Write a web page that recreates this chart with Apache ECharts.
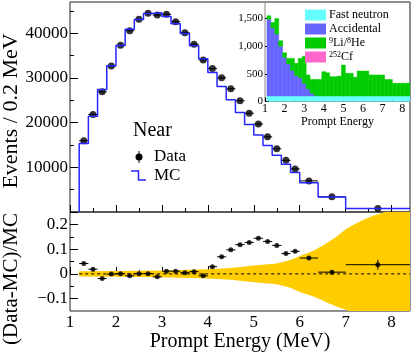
<!DOCTYPE html>
<html>
<head>
<meta charset="utf-8">
<title>Prompt energy</title>
<style>
html, body { margin: 0; padding: 0; background: #fff; }
#chart { width: 415px; height: 354px; }
</style>
</head>
<body>
<div id="chart"></div>
<script src="https://cdn.jsdelivr.net/npm/echarts@6/dist/echarts.min.js"></script>
<script>
// prompt energy spectrum, bin edges in MeV
const binEdges = [1.2, 1.4, 1.6, 1.8, 2.0, 2.2, 2.4, 2.6, 2.8, 3.0, 3.2, 3.4, 3.6, 3.8, 4.0, 4.2, 4.4, 4.6, 4.8, 5.0, 5.2, 5.4, 5.6, 5.8, 6.0, 6.4, 7.0, 8.4];
const dataCounts = [15960, 21830, 26900, 32700, 37320, 40580, 43120, 44460, 44080, 44240, 42590, 40130, 37540, 34040, 32100, 30020, 27570, 24890, 22100, 19690, 16820, 14140, 11560, 9640, 6960, 3390, 780];
const dataErrors = [130, 150, 160, 180, 190, 200, 210, 210, 210, 210, 210, 200, 190, 180, 180, 170, 170, 160, 150, 140, 130, 120, 110, 100, 60, 30, 15];
const mcCounts = [15320, 21420, 27420, 32730, 37280, 40910, 43080, 44420, 44620, 43760, 42130, 39930, 37200, 34310, 31200, 28080, 25130, 22260, 19610, 17210, 14870, 12680, 10680, 8840, 6540, 3370, 760];

// (Data-MC)/MC
const ratio = [0.042, 0.019, -0.019, -0.001, 0.001, -0.008, 0.001, 0.001, -0.012, 0.011, 0.011, 0.005, 0.009, -0.008, 0.029, 0.069, 0.097, 0.118, 0.127, 0.144, 0.131, 0.115, 0.082, 0.091, 0.064, 0.007, 0.037];
const ratioErrors = [0.004, 0.004, 0.004, 0.004, 0.004, 0.004, 0.004, 0.004, 0.004, 0.004, 0.004, 0.004, 0.004, 0.004, 0.004, 0.004, 0.004, 0.004, 0.004, 0.005, 0.005, 0.005, 0.005, 0.005, 0.006, 0.008, 0.02];

// MC uncertainty band
const bandEnergy = [1.2, 2.0, 3.0, 4.0, 4.5, 5.0, 5.5, 5.8, 6.0, 6.15, 6.3, 6.5, 6.65, 6.8, 7.0, 7.2, 7.4, 7.6, 7.85, 8.1, 8.4];
const bandUpper = [0.011, 0.012, 0.014, 0.019, 0.024, 0.034, 0.042, 0.056, 0.072, 0.082, 0.093, 0.115, 0.132, 0.15, 0.18, 0.202, 0.22, 0.235, 0.25, 0.27, 0.3];
const bandLower = [-0.011, -0.012, -0.014, -0.019, -0.024, -0.034, -0.042, -0.056, -0.073, -0.082, -0.091, -0.108, -0.121, -0.132, -0.145, -0.16, -0.175, -0.19, -0.205, -0.22, -0.24];

// inset: backgrounds
const insetEdges = [1.1, 1.3, 1.5, 1.7, 1.9, 2.1, 2.3, 2.5, 2.7, 2.9, 3.1, 3.3, 3.5, 3.7, 3.9, 4.1, 4.3, 4.5, 4.7, 4.9, 5.1, 5.3, 5.5, 5.7, 5.9, 6.1, 6.3, 6.5, 6.7, 6.9, 7.1, 7.3, 7.5, 7.7, 7.9, 8.1, 8.3, 8.5];
const fastNeutron = [100, 100, 100, 100, 100, 100, 100, 100, 100, 100, 100, 100, 100, 100, 100, 100, 100, 100, 100, 100, 100, 100, 100, 100, 100, 100, 100, 100, 100, 100, 100, 100, 100, 100, 100, 100, 100];
const accidental = [1390, 1230, 1120, 900, 700, 580, 460, 370, 330, 230, 130, 50, 10, 0, 0, 0, 0, 0, 0, 0, 0, 0, 0, 0, 0, 0, 0, 0, 0, 0, 0, 0, 0, 0, 0, 0, 0];
const liHe = [60, 100, 280, 100, 80, 100, 220, 220, 350, 490, 250, 250, 290, 300, 440, 420, 350, 350, 360, 560, 410, 410, 340, 450, 450, 450, 380, 380, 380, 380, 300, 300, 230, 230, 230, 230, 230];
const cf252 = [0, 0, 0, 0, 0, 0, 0, 0, 0, 0, 0, 0, 0, 0, 0, 0, 0, 0, 0, 0, 0, 0, 0, 0, 0, 0, 0, 0, 0, 0, 0, 0, 0, 0, 0, 0, 0];

// ticks
const xTicks = [1, 2, 3, 4, 5, 6, 7, 8];
const xMinorTicks = [1.5, 2.5, 3.5, 4.5, 5.5, 6.5, 7.5];
const yTicks = [0, 10000, 20000, 30000, 40000];
const yMinorTicks = [5000, 15000, 25000, 35000, 45000];
const ratioTicks = [-0.1, 0, 0.1, 0.2];
const ratioMinorTicks = [-0.05, 0.05, 0.15];
const insetYTicks = [0, 500, 1000, 1500];

const FONT = '"Liberation Serif", "Times New Roman", serif';
const BLUE = '#2626ff';

function tickAxis(gridIndex, position, min, max, ticks, len, label) {
    return {
        type: 'value', gridIndex: gridIndex, position: position, min: min, max: max,
        axisLine: { show: false }, splitLine: { show: false },
        axisTick: { show: true, inside: true, length: len, customValues: ticks, lineStyle: { color: '#000', width: 1 } },
        axisLabel: label ? Object.assign({ show: true, customValues: ticks, fontFamily: FONT, color: '#000' }, label) : { show: false }
    };
}

function errorBars(params, api) {
    let lo = api.value(0), hi = api.value(1), v = api.value(2), e = api.value(3);
    let a = api.coord([lo, v]), b = api.coord([hi, v]);
    let t = api.coord([(lo + hi) / 2, v + e]), d = api.coord([(lo + hi) / 2, v - e]);
    return {
        type: 'group', children: [
            { type: 'line', shape: { x1: a[0], y1: a[1], x2: b[0], y2: b[1] }, style: { stroke: '#000', lineWidth: 1 } },
            { type: 'line', shape: { x1: t[0], y1: t[1], x2: d[0], y2: d[1] }, style: { stroke: '#000', lineWidth: 1 } }
        ]
    };
}

let centers = dataCounts.map((v, i) => (binEdges[i] + binEdges[i + 1]) / 2);

let mcLine = [[binEdges[0], 0]];
mcCounts.forEach((v, i) => mcLine.push([binEdges[i], v]));
mcLine.push([binEdges[binEdges.length - 1], mcCounts[mcCounts.length - 1]]);

function stacked(name, color, values, layers) {
    return {
        type: 'custom', name: name, xAxisIndex: 4, yAxisIndex: 6, clip: true, silent: true,
        itemStyle: { color: color },
        data: values.map((v, i) => {
            let base = 0;
            layers.forEach(l => base += l[i]);
            return [insetEdges[i], insetEdges[i + 1], base, base + v];
        }),
        renderItem: function (params, api) {
            if (api.value(3) <= api.value(2)) return null;
            let p0 = api.coord([api.value(0), api.value(2)]);
            let p1 = api.coord([api.value(1), api.value(3)]);
            return {
                type: 'rect',
                shape: { x: p0[0], y: p1[1], width: p1[0] - p0[0], height: p0[1] - p1[1] },
                style: { fill: color, stroke: color, lineWidth: 0.5 }
            };
        }
    };
}

let chart = echarts.init(document.getElementById('chart'));
chart.setOption({
    animation: false,
    backgroundColor: '#fff',
    grid: [
        { left: 70, top: 2, width: 340, height: 210, show: true, borderColor: '#222', borderWidth: 1, outerBoundsMode: 'none' },
        { left: 70, top: 212, width: 340, height: 99, show: true, borderColor: '#222', borderWidth: 1, outerBoundsMode: 'none' },
        { left: 265, top: 2, width: 145, height: 99.5, show: true, borderColor: '#888', borderWidth: 1, outerBoundsMode: 'none' }
    ],
    xAxis: [
        tickAxis(0, 'bottom', 1, 8.4, xTicks, 7),
        tickAxis(0, 'bottom', 1, 8.4, xMinorTicks, 4),
        Object.assign(tickAxis(1, 'bottom', 1, 8.4, xTicks, 7, { fontSize: 17, margin: 3 }), {
            name: 'Prompt Energy (MeV)', nameLocation: 'middle', nameGap: 17,
            nameTextStyle: { fontFamily: FONT, fontSize: 20, color: '#000' }
        }),
        tickAxis(1, 'bottom', 1, 8.4, xMinorTicks, 4),
        Object.assign(tickAxis(2, 'bottom', 1, 8.4, xTicks, 4, { fontSize: 12, margin: 1 }), {
            name: 'Prompt Energy', nameLocation: 'middle', nameGap: 12,
            nameTextStyle: { fontFamily: FONT, fontSize: 12, color: '#000' }
        }),
        tickAxis(2, 'bottom', 1, 8.4, xMinorTicks, 2)
    ],
    yAxis: [
        tickAxis(0, 'left', 0, 47000, yTicks, 8, { fontSize: 17, margin: 2, formatter: v => v === 0 ? '' : String(v) }),
        tickAxis(0, 'left', 0, 47000, yMinorTicks, 4),
        tickAxis(1, 'left', -0.15, 0.25, ratioTicks, 8, {
            fontSize: 17, margin: 2,
            formatter: v => Math.abs(v) < 1e-9 ? '0' : (v < 0 ? '\u2212' + String(-v) : String(v))
        }),
        tickAxis(1, 'left', -0.15, 0.25, ratioMinorTicks, 4),
        tickAxis(1, 'right', -0.15, 0.25, ratioTicks, 8),
        tickAxis(1, 'right', -0.15, 0.25, ratioMinorTicks, 4),
        tickAxis(2, 'left', 0, 1800, insetYTicks, 4, { fontSize: 11, margin: 2 })
    ],
    legend: {
        data: ['Fast neutron', 'Accidental', 'LiHe', 'Cf'],
        orient: 'vertical', left: 300, top: 4, itemWidth: 21, itemHeight: 11, itemGap: 2,
        icon: 'rect', selectedMode: false,
        textStyle: {
            fontFamily: FONT, fontSize: 12, color: '#000', padding: [0, 0, 0, -2],
            rich: { s: { fontFamily: FONT, fontSize: 8, verticalAlign: 'top', padding: [0, 0, 4, 0] } }
        },
        formatter: function (n) {
            if (n === 'LiHe') return '{s|9}Li/{s|8}He';
            if (n === 'Cf') return '{s|252}Cf';
            return n;
        }
    },
    graphic: [
        { type: 'text', x: 11.5, y: 111, rotation: Math.PI / 2,
          style: { text: 'Events / 0.2 MeV', font: '22px ' + FONT, fill: '#000', align: 'center', verticalAlign: 'middle', textAlign: 'center', textVerticalAlign: 'middle' } },
        { type: 'text', x: 11.5, y: 279, rotation: Math.PI / 2,
          style: { text: '(Data-MC)/MC', font: '21px ' + FONT, fill: '#000', align: 'center', verticalAlign: 'middle', textAlign: 'center', textVerticalAlign: 'middle' } },
        { type: 'text', x: 133, y: 131,
          style: { text: 'Near', font: '20px ' + FONT, fill: '#000', verticalAlign: 'middle', textVerticalAlign: 'middle' } },
        { type: 'line', shape: { x1: 139, y1: 151, x2: 139, y2: 163 }, style: { stroke: '#000', lineWidth: 1 } },
        { type: 'circle', shape: { cx: 139, cy: 157, r: 3.5 }, style: { fill: '#000' } },
        { type: 'text', x: 154, y: 157,
          style: { text: 'Data', font: '17px ' + FONT, fill: '#000', verticalAlign: 'middle', textVerticalAlign: 'middle' } },
        { type: 'polyline', shape: { points: [[131, 171], [138.5, 171], [138.5, 180], [146, 180]] }, style: { stroke: BLUE, lineWidth: 1.5, fill: null } },
        { type: 'text', x: 154, y: 176,
          style: { text: 'MC', font: '17px ' + FONT, fill: '#000', verticalAlign: 'middle', textVerticalAlign: 'middle' } }
    ],
    series: [
        {
            type: 'line', name: 'MC', xAxisIndex: 0, yAxisIndex: 0, step: 'end', data: mcLine,
            showSymbol: false, lineStyle: { color: BLUE, width: 1.5 }, clip: true, silent: true
        },
        {
            type: 'custom', xAxisIndex: 0, yAxisIndex: 0, silent: true, clip: true,
            data: dataCounts.map((v, i) => [binEdges[i], binEdges[i + 1], v, dataErrors[i]]),
            renderItem: errorBars
        },
        {
            type: 'scatter', name: 'Data', xAxisIndex: 0, yAxisIndex: 0, symbolSize: 7, silent: true,
            itemStyle: { color: '#000' },
            data: dataCounts.map((v, i) => [centers[i], v])
        },
        {
            type: 'custom', xAxisIndex: 2, yAxisIndex: 2, silent: true, clip: true, data: [0],
            renderItem: function (params, api) {
                let pts = [];
                bandEnergy.forEach((e, i) => pts.push(api.coord([e, bandUpper[i]])));
                for (let i = bandEnergy.length - 1; i >= 0; i--) pts.push(api.coord([bandEnergy[i], bandLower[i]]));
                return { type: 'polygon', shape: { points: pts }, style: { fill: '#ffcc00' } };
            }
        },
        {
            type: 'line', xAxisIndex: 2, yAxisIndex: 2, silent: true, showSymbol: false,
            data: [[binEdges[0], 0], [binEdges[binEdges.length - 1], 0]],
            lineStyle: { color: '#000', width: 1, type: [3, 3] }
        },
        {
            type: 'custom', xAxisIndex: 2, yAxisIndex: 2, silent: true, clip: true,
            data: ratio.map((v, i) => [binEdges[i], binEdges[i + 1], v, ratioErrors[i]]),
            renderItem: errorBars
        },
        {
            type: 'scatter', xAxisIndex: 2, yAxisIndex: 2, symbolSize: 5, silent: true,
            itemStyle: { color: '#000' },
            data: ratio.map((v, i) => [centers[i], v])
        },
        stacked('Fast neutron', '#66ffff', fastNeutron, []),
        stacked('Accidental', '#6666ff', accidental, [fastNeutron]),
        stacked('LiHe', '#00cc00', liHe, [fastNeutron, accidental]),
        stacked('Cf', '#ff66cc', cf252, [fastNeutron, accidental, liHe])
    ]
});
</script>
</body>
</html>
